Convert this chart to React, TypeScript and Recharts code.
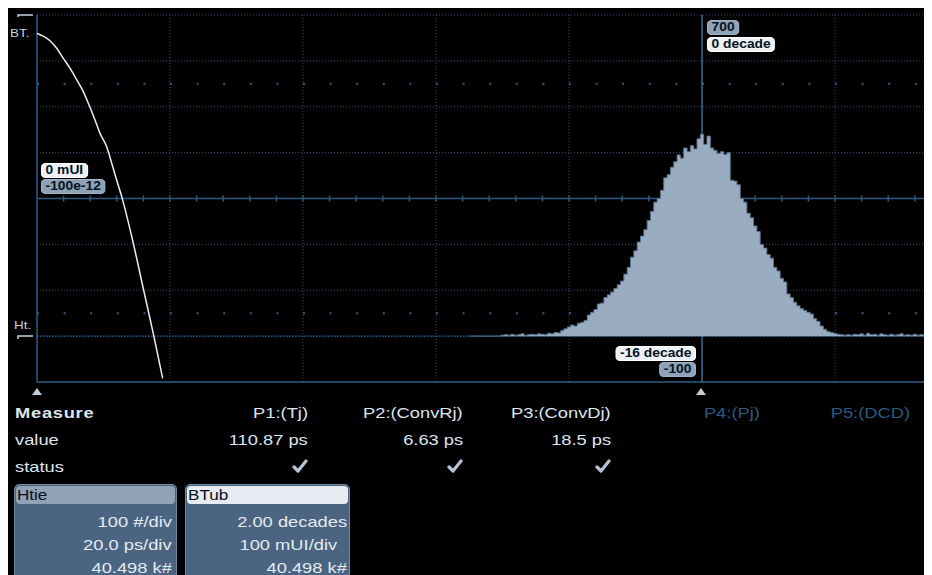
import React from 'react'
import {
  ComposedChart,
  Area,
  Line,
  XAxis,
  YAxis,
  CartesianGrid,
} from 'recharts'

// Htie histogram: bins of 0.5 ps starting at -35 ps, counts per bin
const TIE_START = -35
const TIE_STEP = 0.5
const tieCounts = [
  0, 0, 0, 0, 0, 0, 0, 0, 0, 0,
  2, 3, 2, 4, 2, 3, 5, 2, 3, 4, 3, 5, 4, 3, 6, 5,
  8, 7, 12, 16, 20, 24, 22, 28, 30,
  34, 46, 52, 58, 70, 72, 84, 90, 96, 104,
  112, 120, 135, 150, 172, 186, 205, 218, 232, 252,
  272, 292, 300, 318, 345, 352, 368, 380, 395, 388,
  410, 402, 415, 408, 430, 440,
  418, 436, 410, 405, 398, 402, 396, 400, 340, 338,
  330, 300, 292, 268, 258, 240, 228, 200, 192, 178,
  170, 150, 142, 126, 118, 92, 84, 74, 66, 60,
  56, 52, 48, 38, 32, 22, 15, 10, 8, 6,
  4, 3, 2, 3, 2, 4, 3, 5, 2, 6,
  3, 4, 2, 5, 3, 2, 4, 2, 3, 5,
  2, 3, 2, 4, 2, 3, 2, 3, 2, 3,
]

// BTub bathtub curve: mUI vs log10(BER)
const btMui = [0, 4.7, 9.8, 14.8, 19.8, 24.8, 29.9, 34.8, 38.6, 43.6, 47.4, 52.4, 56.2, 59.9, 63.7, 72.4, 79.9, 87.4, 94.5]
const btDecades = [-0.8, -0.92, -1.12, -1.45, -1.89, -2.32, -2.83, -3.34, -3.85, -4.58, -5.16, -5.74, -6.47, -7.19, -7.92, -9.95, -11.92, -13.88, -15.84]

const psTicks = [-100, -80, -60, -40, -20, 0, 20, 40]
const countTicks = [-100, 0, 100, 200, 300, 400, 500, 600, 700]

const measureNames = ['P1:(Tj)', 'P2:(ConvRj)', 'P3:(ConvDj)', 'P4:(Pj)', 'P5:(DCD)']
const measureValues = ['110.87 ps', '6.63 ps', '18.5 ps', '', '']
const measureOk = [true, true, true, false, false]
const measureRight = [300, 455, 603, 752, 902]

const htieLines = ['100 #/div', '20.0 ps/div', '40.498 k#']
const btubLines = ['2.00 decades', '100 mUI/div ', '40.498 k#']

const tieData = tieCounts.map((c, i) => ({ t: TIE_START + i * TIE_STEP, c }))
const btData = btMui.map((m, i) => ({ m, d: btDecades[i] }))
// minor ticks on the centre graticule line, every 4 ps
const midTicks = Array.from({ length: 35 }, (_, i) => -96 + i * 4)

const FRAME = '#2c5a80'
const GRID = '#1f527c'
const TEXT = '#dde5ee'
const SANS = '"Liberation Sans", Arial, sans-serif'
const STRETCH = 1.22

function Txt({ x, y, right, size = 15, color = TEXT, bold = false, spacing = 0, children }: any) {
  const pos: React.CSSProperties = right
    ? { right: 924 - x, transformOrigin: 'right center' }
    : { left: x, transformOrigin: 'left center' }
  return (
    <div
      style={{
        position: 'absolute',
        top: y,
        ...pos,
        fontFamily: SANS,
        fontSize: size,
        lineHeight: '18px',
        color,
        fontWeight: bold ? 700 : 400,
        letterSpacing: spacing,
        whiteSpace: 'pre',
        transform: `scaleX(${STRETCH})`,
      }}
    >
      {children}
    </div>
  )
}

function Tag({ x, y, right, light, children }: any) {
  const pos: React.CSSProperties = right
    ? { right: 924 - x, transformOrigin: 'right center' }
    : { left: x, transformOrigin: 'left center' }
  return (
    <div
      style={{
        position: 'absolute',
        top: y,
        ...pos,
        height: 13,
        padding: '0 3px',
        borderRadius: 4,
        border: `1px solid ${light ? '#ffffff' : '#9fb2c6'}`,
        background: light ? '#edf1f5' : '#8ea2b7',
        color: '#07111d',
        fontFamily: SANS,
        fontWeight: 700,
        fontSize: 12,
        lineHeight: '13px',
        whiteSpace: 'pre',
        transform: 'scaleX(1.15)',
      }}
    >
      {children}
    </div>
  )
}

function Check({ right, top }: { right: number; top: number }) {
  return (
    <svg width={16} height={14} style={{ position: 'absolute', left: right - 16, top }}>
      <path d="M2 8 L6 12 L14 2" fill="none" stroke="#b4c4d4" strokeWidth={3.2} strokeLinecap="round" strokeLinejoin="round" />
    </svg>
  )
}

function Marker({ x }: { x: number }) {
  return (
    <svg width={12} height={9} style={{ position: 'absolute', left: x - 6, top: 379 }}>
      <polygon points="6,1 11,8 1,8" fill="#c3cfdb" />
    </svg>
  )
}

function InfoBox({ x, width, title, light, lines, rights }: any) {
  return (
    <div
      style={{
        position: 'absolute',
        left: x,
        top: 476,
        width,
        height: 100,
        borderRadius: 5,
        border: '1.5px solid #6f89a2',
        background: '#4a6481',
        boxSizing: 'border-box',
      }}
    >
      <div
        style={{
          position: 'absolute',
          left: 1,
          top: 1,
          right: 1,
          height: 18,
          borderRadius: 4,
          background: light ? '#e6ecf2' : '#8fa2b6',
        }}
      />
      <div
        style={{
          position: 'absolute',
          left: 2,
          top: 1,
          fontFamily: SANS,
          fontSize: 14,
          lineHeight: '18px',
          color: '#06101c',
          transform: `scaleX(${STRETCH})`,
          transformOrigin: 'left center',
        }}
      >
        {title}
      </div>
      {lines.map((s: string, i: number) => (
        <div
          key={s + i}
          style={{
            position: 'absolute',
            right: rights[i],
            top: 28 + i * 23,
            fontFamily: SANS,
            fontSize: 15,
            lineHeight: '18px',
            color: '#e4ebf2',
            whiteSpace: 'pre',
            transform: `scaleX(${STRETCH})`,
            transformOrigin: 'right center',
          }}
        >
          {s}
        </div>
      ))}
    </div>
  )
}

export default function App() {
  return (
    <div style={{ position: 'relative', width: 924, height: 567, background: '#000', overflow: 'hidden' }}>
      <div style={{ position: 'absolute', left: 0, top: 0 }}>
        <ComposedChart width={960} height={395} data={tieData} margin={{ top: 7, right: 0, left: 29, bottom: 21 }}>
          <XAxis dataKey="t" type="number" domain={[-100, 40]} ticks={psTicks} allowDataOverflow hide />
          <YAxis dataKey="c" type="number" domain={[-100, 700]} ticks={countTicks} allowDataOverflow hide />
          <XAxis xAxisId="bt" dataKey="m" type="number" domain={[0, 700]} allowDataOverflow hide />
          <YAxis yAxisId="bt" dataKey="d" type="number" domain={[-16, 0]} allowDataOverflow hide />

          {/* graticule: dotted divisions */}
          <CartesianGrid stroke={GRID} strokeDasharray="1 2" />
          {/* rows of minor dots */}
          <CartesianGrid horizontalValues={[550, 50]} vertical={false} stroke="#2a6090" strokeWidth={2} strokeDasharray="2 24.6" />
          {/* Ht. zero line */}
          <CartesianGrid horizontalValues={[0]} vertical={false} stroke="#2a5f8c" strokeDasharray="2 1" />
          {/* frame and centre line */}
          <CartesianGrid horizontalValues={[700, 300, -100]} verticalValues={[-100]} stroke={FRAME} strokeWidth={1.5} />
          {/* cursor at 0 ps */}
          <CartesianGrid horizontal={false} verticalValues={[0]} stroke="#356891" strokeWidth={1.5} />
          {/* minor ticks on the centre line */}
          <CartesianGrid
            horizontal={false}
            verticalValues={midTicks}
            vertical={(p: any) => {
              const mid = (p.y1 + p.y2) / 2
              return <line key={p.key ?? p.x1} x1={p.x1} x2={p.x2} y1={mid - 3} y2={mid + 3} stroke={FRAME} strokeWidth={1.5} />
            }}
          />

          <Area
            dataKey="c"
            type="step"
            baseValue={0}
            fill="#9aacbf"
            fillOpacity={1}
            stroke="#58738f"
            strokeWidth={1}
            isAnimationActive={false}
          />
          <Line
            data={btData}
            xAxisId="bt"
            yAxisId="bt"
            dataKey="d"
            type="monotone"
            stroke="#e9eff5"
            strokeWidth={1.5}
            dot={false}
            isAnimationActive={false}
          />
        </ComposedChart>
      </div>

      {/* trace markers on the left */}
      <svg width={30} height={340} style={{ position: 'absolute', left: 0, top: 0 }}>
        <path d="M10 9 L10 7 L25 7" fill="none" stroke="#c6d2de" strokeWidth={1.5} />
        <path d="M10 331 L10 328 L25 328" fill="none" stroke="#c6d2de" strokeWidth={1.5} />
      </svg>
      <Txt x={2} y={16} size={11} color="#c6d2de">BT.</Txt>
      <Txt x={6} y={308} size={11} color="#c6d2de">Ht.</Txt>

      <Tag x={33} y={155} light>0 mUI</Tag>
      <Tag x={33} y={171}>-100e-12</Tag>
      <Tag x={699} y={12}>700</Tag>
      <Tag x={699} y={29} light>0 decade</Tag>
      <Tag x={688} y={338} right light>-16 decade</Tag>
      <Tag x={688} y={354} right>-100</Tag>

      <Marker x={29} />
      <Marker x={693} />

      <Txt x={7} y={396} bold spacing={0.6}>Measure</Txt>
      <Txt x={7} y={423}>value</Txt>
      <Txt x={7} y={450}>status</Txt>
      {measureNames.map((n, i) => (
        <React.Fragment key={n}>
          <Txt x={measureRight[i]} y={396} right color={measureOk[i] ? TEXT : '#2a5a80'}>{n}</Txt>
          {measureValues[i] && <Txt x={measureRight[i]} y={423} right>{measureValues[i]}</Txt>}
          {measureOk[i] && <Check right={measureRight[i]} top={451} />}
        </React.Fragment>
      ))}

      <InfoBox x={6} width={163} title="Htie" lines={htieLines} rights={[4, 4, 4]} />
      <InfoBox x={177} width={165} title="BTub" light lines={btubLines} rights={[2, 7, 2]} />
    </div>
  )
}
